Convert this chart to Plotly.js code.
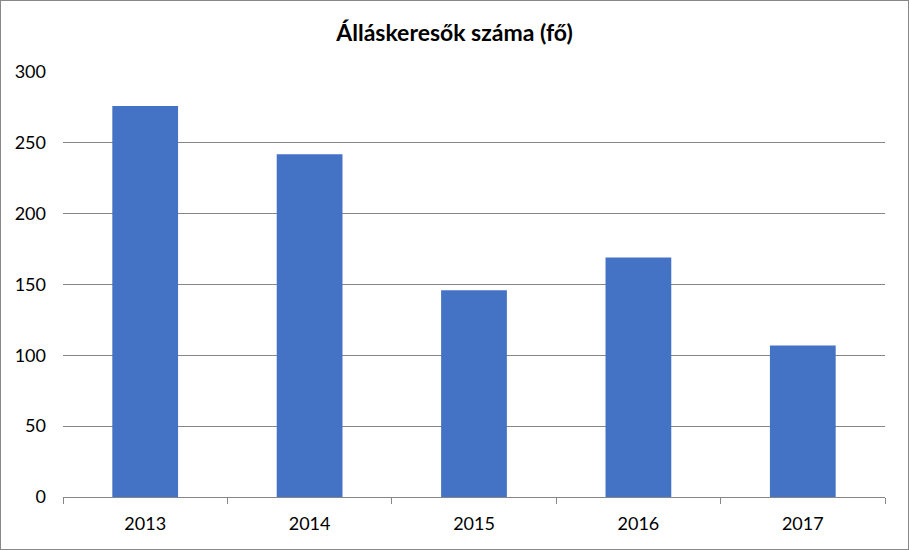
<!DOCTYPE html>
<html><head><meta charset="utf-8">
<script src="https://cdn.plot.ly/plotly-3.0.1.min.js"></script>
<style>html,body{margin:0;padding:0;background:#fff}#c{width:909px;height:550px;box-sizing:border-box;border:1px solid #888}</style>
</head><body><div id="c"></div>
<script>
const years = ['2013','2014','2015','2016','2017'];
const values = [276, 242, 146, 169, 107];
const titleText = 'Álláskeresők száma (fő)';
Plotly.newPlot('c', [{
  type:'bar', x:years, y:values, marker:{color:'#4472C4'}, hoverinfo:'x+y'
}], {
  width:907, height:548,
  margin:{l:62, r:23, t:71, b:52},
  paper_bgcolor:'#fff', plot_bgcolor:'#fff',
  bargap:0.6,
  title:{text:'<b>'+titleText+'</b>', x:0.5, xanchor:'center', y:0.942, yanchor:'middle',
    font:{family:'Lato, "Open Sans", sans-serif', size:23, color:'#000'}},
  font:{family:'Lato, "Open Sans", sans-serif', size:18, color:'#000'},
  xaxis:{type:'category', tickson:'boundaries', ticks:'outside', ticklen:6, tickcolor:'#868686',
    showgrid:false, showline:true, linecolor:'#868686', linewidth:1, tickfont:{size:18}, ticklabelstandoff:10},
  yaxis:{range:[0,300], dtick:50, showgrid:true, gridcolor:'#868686', gridwidth:1,
    zeroline:false, showline:false, ticks:'', ticklen:0, tickfont:{size:18}, ticklabelstandoff:16, automargin:false}
}, {displayModeBar:false, staticPlot:true});
</script></body></html>
